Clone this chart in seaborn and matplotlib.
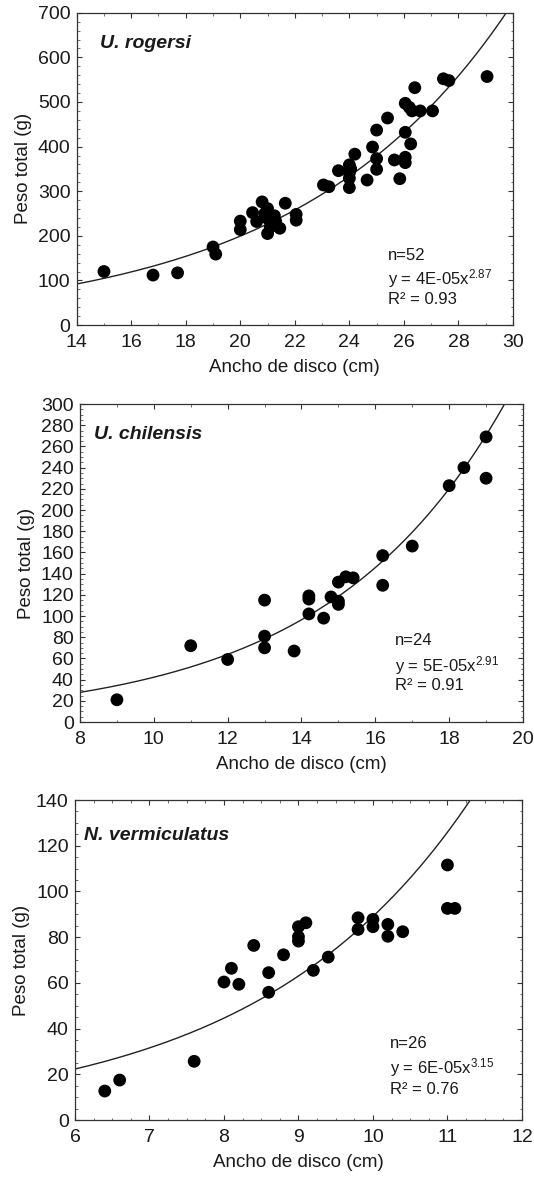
import numpy as np
import pandas as pd
import matplotlib
matplotlib.use("Agg")
import matplotlib.pyplot as plt
from matplotlib.ticker import MultipleLocator
import seaborn as sns

# --- U. rogersi: disc width (cm) vs total weight (g)
rog_width = [15.0, 16.8, 17.7, 19.0, 19.1, 20.0, 20.0, 20.45, 20.6, 20.8,
             21.0, 21.0, 21.0, 21.1, 21.25, 21.3, 21.45, 21.65, 22.05, 22.05,
             23.05, 23.25, 23.6, 24.0, 24.0, 24.0, 24.0, 24.2, 24.65, 24.85,
             25.0, 25.0, 25.0, 25.4, 25.65, 25.85, 26.05, 26.05, 26.05, 26.05,
             26.2, 26.25, 26.3, 26.4, 26.6, 27.05, 27.45, 27.65, 29.05,
             20.9, 21.15, 24.05]
rog_weight = [120, 112, 117, 175, 159, 233, 214, 252, 232, 276,
              261, 239, 205, 220, 245, 232, 217, 273, 248, 235,
              314, 310, 346, 359, 341, 329, 308, 383, 325, 399,
              437, 373, 349, 464, 370, 328, 497, 432, 376, 364,
              488, 406, 480, 532, 480, 480, 552, 548, 557,
              250, 226, 350]

# --- U. chilensis
chi_width = [9.0, 11.0, 12.0, 13.0, 13.0, 13.0, 13.8, 14.2, 14.2, 14.2,
             14.6, 14.8, 15.0, 15.0, 15.0, 15.2, 15.4, 16.2, 16.2, 17.0,
             18.0, 18.4, 19.0, 19.0]
chi_weight = [21, 72, 59, 115, 81, 70, 67, 119, 116, 102,
              98, 118, 132, 114, 111, 137, 136, 157, 129, 166,
              223, 240, 269, 230]

# --- N. vermiculatus
ver_width = [6.4, 6.6, 7.6, 8.0, 8.1, 8.2, 8.4, 8.6, 8.6, 8.8,
             9.0, 9.0, 9.0, 9.1, 9.2, 9.4, 9.8, 9.8, 10.0, 10.0,
             10.2, 10.2, 10.4, 11.0, 11.0, 11.1]
ver_weight = [12.7, 17.5, 25.7, 60.4, 66.4, 59.4, 76.4, 64.5, 55.9, 72.3,
              84.6, 80.2, 78.3, 86.3, 65.5, 71.3, 88.5, 83.4, 87.8, 84.6,
              85.6, 80.4, 82.4, 111.6, 92.6, 92.6]

species = ["U. rogersi", "U. chilensis", "N. vermiculatus"]
n_labels = ["n=52", "n=24", "n=26"]
coef_labels = ["4E-05", "5E-05", "6E-05"]
exp_labels = ["2.87", "2.91", "3.15"]
r2_labels = ["R\u00b2 = 0.93", "R\u00b2 = 0.91", "R\u00b2 = 0.76"]

# trend curves drawn on each panel, y = a * exp(k * x)
curve_a = [15.16, 5.37, 2.80]
curve_k = [0.1288, 0.2063, 0.346]

x_limits = [(14, 30), (8, 20), (6, 12)]
y_limits = [(0, 700), (0, 300), (0, 140)]
x_major = [2, 2, 1]
x_minor = [1, 1, 0.25]
y_major = [100, 20, 20]
y_minor = [20, 5, 5]

sns.set_theme(style="ticks")
plt.rcParams["font.family"] = ["Liberation Sans", "DejaVu Sans"]
plt.rcParams["mathtext.fontset"] = "custom"
plt.rcParams["mathtext.rm"] = "Liberation Sans"
plt.rcParams["mathtext.default"] = "regular"

TXT = "#1a1a1a"

fig = plt.figure(figsize=(5.34, 11.79), dpi=100)
rects = [
    [0.1436, 0.7243, 0.817, 0.2649],
    [0.1498, 0.3876, 0.8296, 0.2697],
    [0.1404, 0.0500, 0.8370, 0.2714],
]
text_pos = [
    dict(sp=(0.053, 0.903), n=(0.713, 0.224), eq=(0.713, 0.150), r2=(0.713, 0.083)),
    dict(sp=(0.032, 0.903), n=(0.710, 0.256), eq=(0.710, 0.179), r2=(0.710, 0.114)),
    dict(sp=(0.020, 0.890), n=(0.705, 0.238), eq=(0.705, 0.165), r2=(0.705, 0.096)),
]

datasets = [(rog_width, rog_weight), (chi_width, chi_weight), (ver_width, ver_weight)]

for i, (xs, ys) in enumerate(datasets):
    ax = fig.add_axes(rects[i])
    df = pd.DataFrame({"ancho": xs, "peso": ys})
    x0, x1 = x_limits[i]
    xc = np.linspace(x0, x1, 400)
    yc = curve_a[i] * np.exp(curve_k[i] * xc)
    ax.plot(xc, yc, color="#222222", lw=1.0, zorder=2)
    sns.scatterplot(data=df, x="ancho", y="peso", ax=ax, color="black",
                    s=85, edgecolor="none", linewidth=0, zorder=3)

    ax.set_xlim(x0, x1)
    ax.set_ylim(*y_limits[i])
    ax.xaxis.set_major_locator(MultipleLocator(x_major[i]))
    ax.xaxis.set_minor_locator(MultipleLocator(x_minor[i]))
    ax.yaxis.set_major_locator(MultipleLocator(y_major[i]))
    ax.yaxis.set_minor_locator(MultipleLocator(y_minor[i]))
    ax.tick_params(which="major", direction="in", length=3.5, width=0.8,
                   top=True, right=True, labelsize=14, labelcolor=TXT,
                   color="#333333")
    ax.tick_params(axis="x", which="major", pad=6.5)
    ax.tick_params(axis="y", which="major", pad=4.5)
    ax.tick_params(which="minor", direction="in", length=1.8, width=0.6,
                   top=True, right=True, color="#555555")
    for sp in ax.spines.values():
        sp.set_visible(True)
        sp.set_linewidth(0.9)
        sp.set_color("#333333")

    ax.set_xlabel("Ancho de disco (cm)", fontsize=13.5, color=TXT, labelpad=6)
    ax.set_ylabel("Peso total (g)", fontsize=13.5, color=TXT, labelpad=4)

    tp = text_pos[i]
    ax.text(*tp["sp"], species[i], transform=ax.transAxes, fontsize=14,
            fontweight="bold", fontstyle="italic", color=TXT, va="center")
    ax.text(*tp["n"], n_labels[i], transform=ax.transAxes, fontsize=12,
            color=TXT, va="center")
    ax.text(*tp["eq"], "y = " + coef_labels[i] + "x$^{" + exp_labels[i] + "}$",
            transform=ax.transAxes, fontsize=12, color=TXT, va="center")
    ax.text(*tp["r2"], r2_labels[i], transform=ax.transAxes, fontsize=12,
            color=TXT, va="center")

fig.savefig("out.png", dpi=100, facecolor="white")
